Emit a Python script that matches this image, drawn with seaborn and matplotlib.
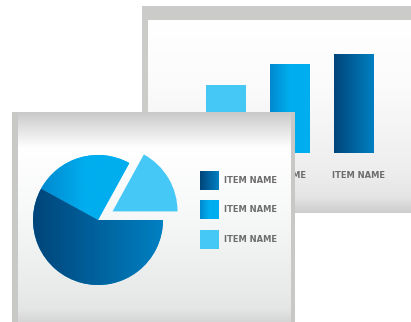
import numpy as np
import pandas as pd
import matplotlib
matplotlib.use("Agg")
import matplotlib.pyplot as plt
import seaborn as sns
from matplotlib.colors import LinearSegmentedColormap
from matplotlib.patches import Rectangle

sns.set_theme(style="white")
plt.rcParams['font.family'] = ['DejaVu Sans']

# ---------------- data ----------------
bar_categories = ["A", "B", "C"]
bar_values = [68, 89, 99]
bar_labels = ["", "ITEM NAME", "ITEM NAME"]   # first label is hidden behind the front panel
bar_label_shift = [0.0, -0.58, -0.345]        # label start relative to bar centre (category units)

pie_values = [17, 25, 58]          # light, medium, dark (counter-clockwise from east)
pie_explode = [0.26, 0.0, 0.0]
legend_labels = ["ITEM NAME", "ITEM NAME", "ITEM NAME"]

# colour ramps (left -> right)
light = ["#45c8f5", "#45c8f5"]
medium = ["#0089cf", "#00aeef", "#00aeef"]
dark = ["#00457a", "#0080c2"]

W, H = 411, 322
fig = plt.figure(figsize=(W / 100, H / 100), dpi=100)
fig.patch.set_facecolor("white")


def px_axes(x0, y0, x1, y1, z):
    ax = fig.add_axes([x0 / W, 1 - y1 / H, (x1 - x0) / W, (y1 - y0) / H], zorder=z)
    ax.set_axis_off()
    ax.patch.set_alpha(0)
    return ax


def vgrad(ax, x0, x1, y0, y1, stops):
    ys = np.linspace(0, 1, 256)
    pos = [s[0] for s in stops]
    cols = [matplotlib.colors.to_rgb(s[1]) for s in stops]
    arr = np.zeros((256, 1, 3))
    for c in range(3):
        arr[:, 0, c] = np.interp(ys, pos, [col[c] for col in cols])
    ax.imshow(arr, extent=[x0, x1, y1, y0], aspect="auto", interpolation="bilinear", zorder=1)


def hgrad_clip(ax, patch, x0, x1, y0, y1, colors, z=3):
    cmap = LinearSegmentedColormap.from_list("g", colors)
    g = np.linspace(0, 1, 256).reshape(1, -1)
    im = ax.imshow(g, extent=[x0, x1, y0, y1], aspect="auto", cmap=cmap,
                   interpolation="bilinear", zorder=z, origin="lower")
    im.set_clip_path(patch)
    return im


# ---------------- back panel ----------------
ax_bg = px_axes(0, 0, W, H, 0)
ax_bg.set_xlim(0, W)
ax_bg.set_ylim(H, 0)
ax_bg.add_patch(Rectangle((142, 6), W - 142, 207, facecolor="#cbcbca", edgecolor="none", zorder=0))
vgrad(ax_bg, 148, W, 20, 213,
      [(0, "#ffffff"), (0.35, "#fbfbfb"), (0.8, "#ededed"), (0.92, "#e4e4e4"), (1.0, "#cdcdcd")])
ax_bg.set_xlim(0, W)
ax_bg.set_ylim(H, 0)

# bar chart axes: category unit = 64 px, value 0 at y=153, 100 at y=53
ax_bar = px_axes(194, 53, 386, 153, 1)
df = pd.DataFrame({"cat": bar_categories, "val": bar_values})
sns.barplot(data=df, x="cat", y="val", hue="cat", palette=[light[0], medium[1], dark[1]],
            width=0.625, saturation=1, legend=False, ax=ax_bar, linewidth=0)
ramps = [light, medium, dark]
for p, ramp in zip(ax_bar.patches, ramps):
    x, y, w, h = p.get_x(), p.get_y(), p.get_width(), p.get_height()
    hgrad_clip(ax_bar, p, x, x + w, y, y + h, ramp)
ax_bar.set_xlim(-0.5, 2.5)
ax_bar.set_ylim(0, 100)
ax_bar.set_axis_off()
for i, (lab, sh) in enumerate(zip(bar_labels, bar_label_shift)):
    if lab:
        ax_bar.text(i + sh, -23, lab, ha="left", va="center", fontsize=6.0,
                    fontweight="bold", color="#6d6d6d", clip_on=False)

# ---------------- front panel ----------------
ax_fr = px_axes(0, 0, W, H, 2)
ax_fr.set_xlim(0, W)
ax_fr.set_ylim(H, 0)
ax_fr.add_patch(Rectangle((12, 112), 283, 210, facecolor="#c8c8c7", edgecolor="none", zorder=0))
vgrad(ax_fr, 18, 290, 112, 322,
      [(0, "#c9c9c9"), (0.07, "#e0e0e0"), (0.17, "#ffffff"), (0.45, "#f8f9f9"),
       (0.85, "#e9eaea"), (0.94, "#e4e5e5"), (1.0, "#d6d6d6")])
ax_fr.set_xlim(0, W)
ax_fr.set_ylim(H, 0)

# legend
leg_y = [171, 200, 230]
for (yy, ramp, lab) in zip(leg_y, [dark, medium, light], legend_labels):
    r = Rectangle((200, yy), 19, 18.5, facecolor=ramp[-1], edgecolor="none", zorder=2)
    ax_fr.add_patch(r)
    cmap = LinearSegmentedColormap.from_list("g", ramp)
    im = ax_fr.imshow(np.linspace(0, 1, 64).reshape(1, -1), extent=[200, 219, yy + 18.5, yy],
                      aspect="auto", cmap=cmap, interpolation="bilinear", zorder=3)
    im.set_clip_path(r)
    ax_fr.text(224, yy + 9.5, lab, ha="left", va="center", fontsize=6.0,
               fontweight="bold", color="#6d6d6d", zorder=4)
ax_fr.set_xlim(0, W)
ax_fr.set_ylim(H, 0)

# pie
ax_pie = px_axes(13, 135, 183, 305, 3)
wedges, _ = ax_pie.pie(pie_values, colors=[light[0], medium[1], dark[1]], startangle=0,
                       counterclock=True, explode=pie_explode, radius=1,
                       wedgeprops=dict(linewidth=0))
for wdg, ramp in zip(wedges, [light, medium, dark]):
    if ramp is light:
        continue
    if ramp is medium:
        hgrad_clip(ax_pie, wdg, -0.87, 0.5, -1.1, 1.1, ramp)
    else:
        hgrad_clip(ax_pie, wdg, -1.0, 1.0, -1.1, 1.1, ramp)
lim = 85 / 65
ax_pie.set_xlim(-lim, lim)
ax_pie.set_ylim(-lim, lim)
ax_pie.set_aspect("auto")
ax_pie.set_axis_off()

fig.savefig("out.png", dpi=100, facecolor="white")
